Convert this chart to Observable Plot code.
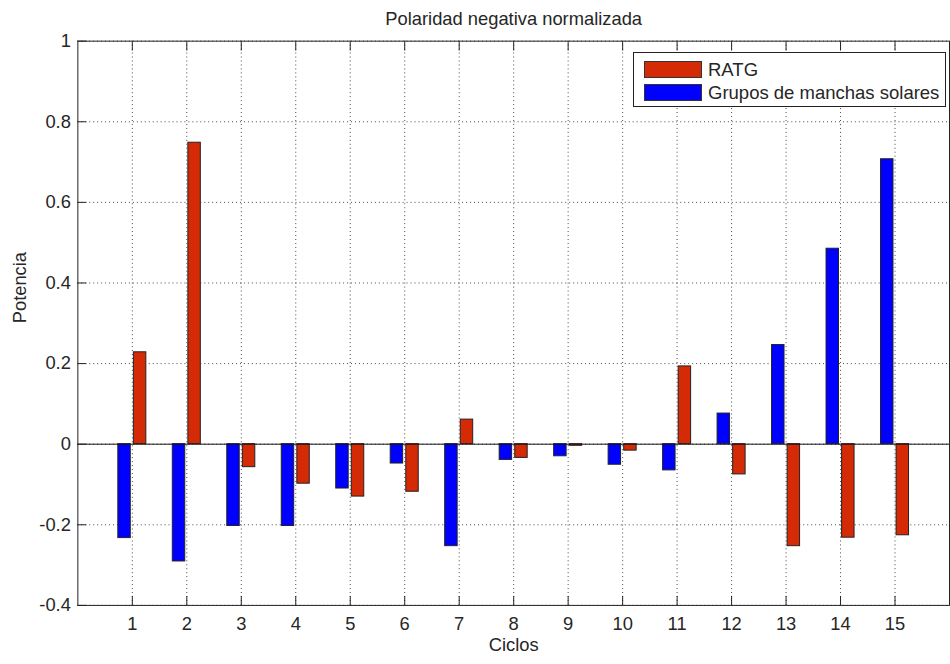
<!DOCTYPE html>
<html><head><meta charset="utf-8">
<script src="https://cdn.jsdelivr.net/npm/d3@7"></script>
<script src="https://cdn.jsdelivr.net/npm/@observablehq/plot@0.6"></script>
<style>
body{margin:0;background:#fff;overflow:hidden}
#wrap{position:relative;width:950px;height:664px;overflow:hidden;font-family:"Liberation Sans",Arial,sans-serif}
#wrap svg{position:absolute;left:0;top:0}
.legend{position:absolute;left:633px;top:52px;width:313px;height:55px;border:1px solid #222;background:#fff;box-sizing:border-box}
.legend .row{position:absolute;left:10px;height:19px;display:flex;align-items:center}
.legend .sw{width:58px;height:17px;border:1px solid #333;box-sizing:border-box;margin-right:6px}
.legend .lab{font-size:18.5px;color:#262626;line-height:19px}
</style></head><body><div id="wrap"></div>
<script>
const cycles = [1,2,3,4,5,6,7,8,9,10,11,12,13,14,15];
const ratg = [0.228, 0.748, -0.057, -0.098, -0.130, -0.118, 0.061, -0.034, -0.004, -0.016, 0.193, -0.075, -0.253, -0.232, -0.226];
const sunspotGroups = [-0.233, -0.291, -0.203, -0.203, -0.110, -0.048, -0.253, -0.039, -0.030, -0.051, -0.065, 0.076, 0.246, 0.485, 0.707];
const yTicks = [-0.4, -0.2, 0, 0.2, 0.4, 0.6, 0.8, 1];
const seriesNames = ["RATG", "Grupos de manchas solares"];
const seriesColors = ["#d42a06", "#0000ff"];
const titleText = "Polaridad negativa normalizada";
const xLabel = "Ciclos";
const yLabel = "Potencia";

// MATLAB grouped bar geometry (2 series): group width 0.571, offsets ±0.143, bar width 0.229
const groupW = 2 / 3.5;
const barW = groupW / 2 * 0.8;
const rows = [];
cycles.forEach((c, i) => {
  rows.push({cycle: c, series: seriesNames[1], value: sunspotGroups[i], off: -groupW / 4});
  rows.push({cycle: c, series: seriesNames[0], value: ratg[i], off: groupW / 4});
});

const fmt = d => String(+d.toFixed(1));
const textColor = "#262626";

const chart = Plot.plot({
  width: 958,
  height: 664,
  marginLeft: 78,
  marginRight: 1,
  marginTop: 41,
  marginBottom: 54,
  style: {fontFamily: '"Liberation Sans", Arial, sans-serif', fontSize: "18.5px", color: textColor, background: "#fff"},
  x: {domain: [0, 16], label: null},
  y: {domain: [-0.4, 1], label: null},
  color: {domain: seriesNames, range: seriesColors},
  marks: [
    Plot.ruleY(yTicks, {stroke: "#333", strokeDasharray: "1,3", strokeOpacity: 0.9}),
    Plot.ruleX(cycles, {stroke: "#333", strokeDasharray: "1,3", strokeOpacity: 0.9}),
    Plot.rectY(rows, {
      x1: d => d.cycle + d.off - barW / 2,
      x2: d => d.cycle + d.off + barW / 2,
      y1: 0,
      y2: "value",
      fill: "series",
      stroke: "#222",
      strokeWidth: 1
    }),
    Plot.ruleY([0], {stroke: "#111"}),
    Plot.axisX(cycles, {anchor: "bottom", tickSize: -9, text: null, label: null, stroke: "#222"}),
    Plot.axisX(cycles, {anchor: "top", tickSize: -9, text: null, label: null, stroke: "#222"}),
    Plot.axisX(cycles, {anchor: "bottom", tickSize: 0, tickPadding: 12, label: null, fill: textColor}),
    Plot.axisY(yTicks, {anchor: "left", tickSize: -9, text: null, label: null, stroke: "#222"}),
    Plot.axisY(yTicks, {anchor: "left", tickSize: 0, tickPadding: 7, tickFormat: fmt, label: null, fill: textColor}),
    Plot.frame({stroke: "#222"}),
    Plot.text([titleText], {frameAnchor: "top", lineAnchor: "middle", dy: -22, fill: textColor, fontSize: 18.5}),
    Plot.text([xLabel], {frameAnchor: "bottom", lineAnchor: "middle", dy: 40, fill: textColor, fontSize: 18.5}),
    Plot.text([yLabel], {frameAnchor: "left", dx: -58, rotate: -90, fill: textColor, fontSize: 18.5})
  ]
});
const wrap = document.getElementById("wrap");
wrap.appendChild(chart);

const legend = document.createElement("div");
legend.className = "legend";
seriesNames.forEach((name, i) => {
  const row = document.createElement("div");
  row.className = "row";
  row.style.top = (i === 0 ? 7 : 30) + "px";
  const sw = document.createElement("div");
  sw.className = "sw";
  sw.style.background = seriesColors[i];
  const lab = document.createElement("span");
  lab.className = "lab";
  lab.textContent = name;
  row.appendChild(sw); row.appendChild(lab);
  legend.appendChild(row);
});
wrap.appendChild(legend);
</script>
</body></html>
